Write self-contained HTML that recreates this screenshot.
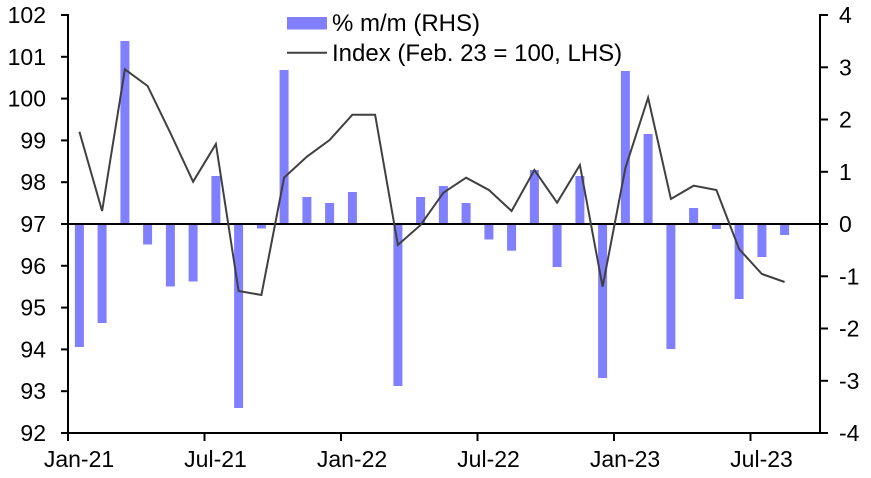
<!DOCTYPE html>
<html><head><meta charset="utf-8"><style>
html,body{margin:0;padding:0;background:#fff;}
svg{display:block;font-family:"Liberation Sans",Arial,sans-serif;}
</style></head><body>
<svg width="871" height="478" viewBox="0 0 871 478" xmlns="http://www.w3.org/2000/svg">
<g fill="#8080ff">
<rect x="74.9" y="224" width="9" height="123"/>
<rect x="97.6" y="224" width="9" height="99"/>
<rect x="120.4" y="41" width="9" height="183"/>
<rect x="143.1" y="224" width="9" height="20.5"/>
<rect x="165.9" y="224" width="9" height="62.5"/>
<rect x="188.6" y="224" width="9" height="57.5"/>
<rect x="211.4" y="176" width="9" height="48"/>
<rect x="234.1" y="224" width="9" height="184"/>
<rect x="256.9" y="224" width="9" height="4.5"/>
<rect x="279.6" y="70" width="9" height="154"/>
<rect x="302.4" y="197" width="9" height="27"/>
<rect x="325.1" y="203" width="9" height="21"/>
<rect x="347.9" y="192" width="9" height="32"/>
<rect x="393.4" y="224" width="9" height="162"/>
<rect x="416.1" y="197" width="9" height="27"/>
<rect x="438.9" y="186" width="9" height="38"/>
<rect x="461.6" y="203" width="9" height="21"/>
<rect x="484.4" y="224" width="9" height="15.5"/>
<rect x="507.1" y="224" width="9" height="26.7"/>
<rect x="529.9" y="170" width="9" height="54"/>
<rect x="552.6" y="224" width="9" height="43"/>
<rect x="575.4" y="176" width="9" height="48"/>
<rect x="598.1" y="224" width="9" height="154"/>
<rect x="620.9" y="71" width="9" height="153"/>
<rect x="643.6" y="134" width="9" height="90"/>
<rect x="666.4" y="224" width="9" height="125"/>
<rect x="689.1" y="208" width="9" height="16"/>
<rect x="711.9" y="224" width="9" height="5"/>
<rect x="734.6" y="224" width="9" height="75"/>
<rect x="757.4" y="224" width="9" height="33"/>
<rect x="780.1" y="224" width="9" height="11"/>
</g>
<line x1="68" y1="224" x2="820" y2="224" stroke="#000" stroke-width="2"/>
<polyline fill="none" stroke="#404040" stroke-width="2" points="79.4,131.7 102.1,211 124.9,69.3 147.6,86 170.4,133 193.1,181.7 215.9,144 238.6,291 261.4,295 284.1,177.7 306.9,156.7 329.6,140 352.4,114.7 375.1,114.7 397.9,245 420.6,225 443.4,192.7 466.1,177.7 488.9,190 511.6,211 534.4,170 557.1,202.7 579.9,165 602.6,286.7 625.4,168 648.1,97.7 670.9,199 693.6,185.7 716.4,190 739.1,249 761.9,274 784.6,282"/>
<g stroke="#000" stroke-width="2" fill="none">
<line x1="68" y1="14" x2="68" y2="434"/>
<line x1="820" y1="14" x2="820" y2="434"/>
<line x1="67" y1="433" x2="821" y2="433"/>
<line x1="61" y1="15" x2="68" y2="15"/>
<line x1="61" y1="56.8" x2="68" y2="56.8"/>
<line x1="61" y1="98.6" x2="68" y2="98.6"/>
<line x1="61" y1="140.4" x2="68" y2="140.4"/>
<line x1="61" y1="182.2" x2="68" y2="182.2"/>
<line x1="61" y1="224" x2="68" y2="224"/>
<line x1="61" y1="265.8" x2="68" y2="265.8"/>
<line x1="61" y1="307.6" x2="68" y2="307.6"/>
<line x1="61" y1="349.4" x2="68" y2="349.4"/>
<line x1="61" y1="391.2" x2="68" y2="391.2"/>
<line x1="61" y1="433" x2="68" y2="433"/>
<line x1="820" y1="15" x2="828" y2="15"/>
<line x1="820" y1="67.3" x2="828" y2="67.3"/>
<line x1="820" y1="119.5" x2="828" y2="119.5"/>
<line x1="820" y1="171.8" x2="828" y2="171.8"/>
<line x1="820" y1="224" x2="828" y2="224"/>
<line x1="820" y1="276.3" x2="828" y2="276.3"/>
<line x1="820" y1="328.5" x2="828" y2="328.5"/>
<line x1="820" y1="380.8" x2="828" y2="380.8"/>
<line x1="820" y1="433" x2="828" y2="433"/>
<line x1="68" y1="433" x2="68" y2="441"/>
<line x1="204.5" y1="433" x2="204.5" y2="441"/>
<line x1="341" y1="433" x2="341" y2="441"/>
<line x1="477.5" y1="433" x2="477.5" y2="441"/>
<line x1="614" y1="433" x2="614" y2="441"/>
<line x1="750.5" y1="433" x2="750.5" y2="441"/>
</g>
<g font-size="23" fill="#000" text-anchor="end">
<text x="46" y="23">102</text>
<text x="46" y="64.8">101</text>
<text x="46" y="106.6">100</text>
<text x="46" y="148.4">99</text>
<text x="46" y="190.2">98</text>
<text x="46" y="232">97</text>
<text x="46" y="273.8">96</text>
<text x="46" y="315.6">95</text>
<text x="46" y="357.4">94</text>
<text x="46" y="399.2">93</text>
<text x="46" y="441">92</text>
</g>
<g font-size="23" fill="#000">
<text x="839" y="23">4</text>
<text x="839" y="75.3">3</text>
<text x="839" y="127.5">2</text>
<text x="839" y="179.8">1</text>
<text x="839" y="232">0</text>
<text x="839" y="284.3">-1</text>
<text x="839" y="336.5">-2</text>
<text x="839" y="388.8">-3</text>
<text x="839" y="441">-4</text>
</g>
<g font-size="23" fill="#000" text-anchor="middle">
<text x="79" y="467">Jan-21</text>
<text x="215.5" y="467">Jul-21</text>
<text x="352" y="467">Jan-22</text>
<text x="488.5" y="467">Jul-22</text>
<text x="625" y="467">Jan-23</text>
<text x="761.5" y="467">Jul-23</text>
</g>
<rect x="287" y="17" width="40" height="12.5" fill="#8080ff"/>
<line x1="287" y1="52.7" x2="327" y2="52.7" stroke="#404040" stroke-width="2"/>
<g font-size="24" fill="#000">
<text x="332" y="31">% m/m (RHS)</text>
<text x="332" y="61">Index (Feb. 23 = 100, LHS)</text>
</g>
</svg>
</body></html>
